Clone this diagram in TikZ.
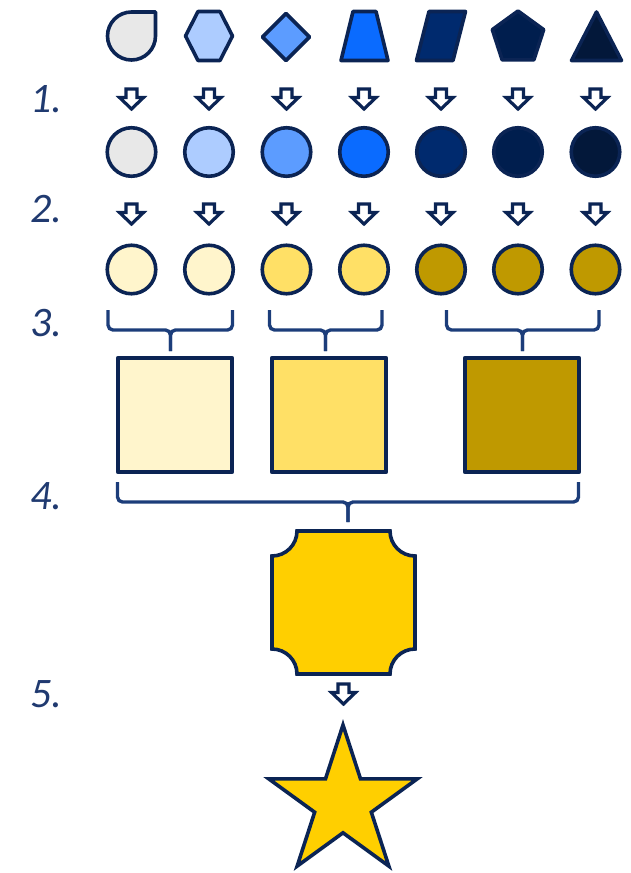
\documentclass[tikz, border = 0pt]{standalone}
\usepackage{fontspec}
\setmainfont{Carlito}
\usetikzlibrary{shapes.geometric}

\definecolor{navyline}{HTML}{0B2454}
\definecolor{braceblue}{HTML}{1C3D7A}
\definecolor{stepblue}{HTML}{203A70}
\definecolor{tone1}{HTML}{E8E8E8}
\definecolor{tone2}{HTML}{ADCCFF}
\definecolor{tone3}{HTML}{5C9CFF}
\definecolor{tone4}{HTML}{0A6BFF}
\definecolor{tone5}{HTML}{002A6E}
\definecolor{tone6}{HTML}{001E4E}
\definecolor{tone7}{HTML}{03183A}
\definecolor{cream}{HTML}{FFF5CC}
\definecolor{sand}{HTML}{FFE066}
\definecolor{olive}{HTML}{BF9900}
\definecolor{gold}{HTML}{FFCF00}

\begin{document}
\begin{tikzpicture}[x = 1pt, y = 1pt,
	shape line/.style = {line width = 3.6pt, draw = navyline, line join = round},
	dot/.style = {shape line, circle, minimum size = 48.5pt, inner sep = 0pt},
	box/.style = {shape line, rectangle, minimum size = 114.5pt, inner sep = 0pt},
	brace line/.style = {line width = 3.4pt, draw = braceblue, rounded corners = 5pt},
	arrow line/.style = {line width = 3.2pt, draw = navyline, fill = white},
	step label/.style = {anchor = base west, text = stepblue, font = \fontsize{42}{50}\selectfont\itshape},
	down arrow/.pic = {
		\draw [arrow line] (-5.5, 10) -- (5.5, 10) -- (5.5, 1.5) -- (12, 1.5)
			-- (0, -10) -- (-12, 1.5) -- (-5.5, 1.5) -- cycle;
	}]

\useasboundingbox (0, 0) rectangle (631, -873);

% Step numbers

\node [step label] (n1) at (27, -112) {1.};
\node [step label] (n2) at (27, -222) {2.};
\node [step label] (n3) at (27, -336) {3.};
\node [step label] (n4) at (27, -509) {4.};
\node [step label] (n5) at (27, -707) {5.};

% Shapes

\draw [shape line, fill = tone1] (155.5, -36) -- (155.5, -12) -- (131.5, -12) arc (90 : 360 : 24) -- cycle;
\draw [shape line, fill = tone2] (185.5, -36) -- (198, -11.5) -- (220, -11.5) -- (232.5, -36)
	-- (220, -60.5) -- (198, -60.5) -- cycle;
\draw [shape line, fill = tone3] (262.5, -37) -- (286, -13.5) -- (309.5, -37) -- (286, -60.5) -- cycle;
\draw [shape line, fill = tone4] (341, -60.5) -- (353, -11.5) -- (376, -11.5) -- (388, -60.5) -- cycle;
\draw [shape line, fill = tone5] (416.5, -60.5) -- (429, -11.5) -- (465.5, -11.5) -- (453, -60.5) -- cycle;
\node [shape line, fill = tone6, regular polygon, regular polygon sides = 5, minimum size = 54pt,
	inner sep = 0pt] (pent) at (518, -38) {};
\draw [shape line, fill = tone7] (571.5, -60.5) -- (596.5, -12) -- (621.5, -60.5) -- cycle;

% Arrows 1

\pic at (131.5, -99) {down arrow};
\pic at (209, -99) {down arrow};
\pic at (286.5, -99) {down arrow};
\pic at (364, -99) {down arrow};
\pic at (441, -99) {down arrow};
\pic at (518, -99) {down arrow};
\pic at (595.5, -99) {down arrow};

% Blue circles

\node [dot, fill = tone1] (c21) at (131.5, -152) {};
\node [dot, fill = tone2] (c22) at (209, -152) {};
\node [dot, fill = tone3] (c23) at (286.5, -152) {};
\node [dot, fill = tone4] (c24) at (364, -152) {};
\node [dot, fill = tone5] (c25) at (441, -152) {};
\node [dot, fill = tone6] (c26) at (518, -152) {};
\node [dot, fill = tone7] (c27) at (595.5, -152) {};

% Arrows 2

\pic at (131.5, -214) {down arrow};
\pic at (209, -214) {down arrow};
\pic at (286.5, -214) {down arrow};
\pic at (364, -214) {down arrow};
\pic at (441, -214) {down arrow};
\pic at (518, -214) {down arrow};
\pic at (595.5, -214) {down arrow};

% Yellow circles

\node [dot, fill = cream] (c31) at (131.5, -269.5) {};
\node [dot, fill = cream] (c32) at (209, -269.5) {};
\node [dot, fill = sand] (c33) at (286.5, -269.5) {};
\node [dot, fill = sand] (c34) at (364, -269.5) {};
\node [dot, fill = olive] (c35) at (441, -269.5) {};
\node [dot, fill = olive] (c36) at (518, -269.5) {};
\node [dot, fill = olive] (c37) at (595.5, -269.5) {};

% Braces 3

\draw [brace line] (108, -310) |- (170.5, -330) -- (170.5, -351);
\draw [brace line] (232.5, -310) |- (170.5, -330) -- (170.5, -351);

\draw [brace line] (269.5, -310) |- (325.5, -330) -- (325.5, -351);
\draw [brace line] (382, -310) |- (325.5, -330) -- (325.5, -351);

\draw [brace line] (446.5, -310) |- (522.5, -330) -- (522.5, -351);
\draw [brace line] (599, -310) |- (522.5, -330) -- (522.5, -351);

% Squares

\node [box, fill = cream] (q1) at (175, -415) {};
\node [box, fill = sand] (q2) at (329, -415) {};
\node [box, fill = olive] (q3) at (522, -415) {};

% Brace 4

\draw [brace line] (117.5, -482) |- (348, -502) -- (348, -522);
\draw [brace line] (578.5, -482) |- (348, -502) -- (348, -522);

% Notched square

\node [minimum size = 143pt, inner sep = 0pt, outer sep = 0pt] (mid) at (343.5, -602.5) {};
\draw [shape line, fill = gold, line join = miter]
	([xshift = 25pt] mid.north west) -- ([xshift = -25pt] mid.north east) arc (180 : 270 : 25)
	-- ([yshift = 25pt] mid.south east) arc (90 : 180 : 25)
	-- ([xshift = 25pt] mid.south west) arc (0 : 90 : 25)
	-- ([yshift = -25pt] mid.north west) arc (270 : 360 : 25) -- cycle;

% Arrow 5

\pic at (343.5, -694) {down arrow};

% Star

\node [shape line, fill = gold, line join = miter, star, star points = 5, star point ratio = 2.618,
	minimum size = 156pt, inner sep = 0pt] (star) at (343, -803) {};

\end{tikzpicture}
\end{document}
